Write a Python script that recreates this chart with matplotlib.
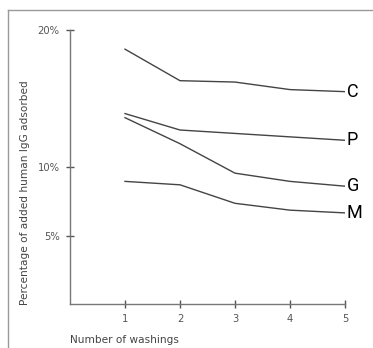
import matplotlib
matplotlib.use('Agg')
import matplotlib.pyplot as plt
from matplotlib.lines import Line2D

washings = [1, 2, 3, 4, 5]
C = [18.6, 16.3, 16.2, 15.65, 15.5]
P = [13.9, 12.7, 12.45, 12.2, 11.95]
G = [13.6, 11.7, 9.55, 8.95, 8.6]
M = [8.95, 8.7, 7.35, 6.85, 6.65]
series = {'C': C, 'P': P, 'G': G, 'M': M}
yticks = [5, 10, 20]
ytick_labels = ['5%', '10%', '20%']

fig = plt.figure(figsize=(3.73, 3.48), dpi=100)
ax = fig.add_axes([70/373, 1 - 304/348, 275/373, 274/348])

line_col = '#444444'
for name, vals in series.items():
    ax.plot(washings, vals, color=line_col, lw=1)
    ax.text(5.03, vals[-1], name, va='center', ha='left', fontsize=13,
            family=['Roboto', 'DejaVu Sans'], color='black')

ax.set_xlim(0, 5)
ax.set_ylim(0, 20)
ax.set_xticks(washings)
ax.set_yticks(yticks)
ax.set_yticklabels(ytick_labels)
for s in ['top', 'right']:
    ax.spines[s].set_visible(False)
for s in ['left', 'bottom']:
    ax.spines[s].set_color('#777777')
    ax.spines[s].set_linewidth(1)
ax.tick_params(direction='inout', length=6, width=1, color='#555555',
               labelsize=7.2, labelcolor='#555555', pad=4.5)

fig.text(70/373, 1 - 340/348, 'Number of washings', fontsize=7.6, color='#444444',
         ha='left', va='center')
fig.text(25/373, 1 - 193/348, 'Percentage of added human IgG adsorbed', fontsize=7.6,
         color='#444444', rotation=90, ha='center', va='center')

# outer frame
fig.add_artist(Line2D([8/373, 1], [1 - 10/348, 1 - 10/348], color='#999999', lw=1,
                      transform=fig.transFigure))
fig.add_artist(Line2D([8/373, 8/373], [0, 1 - 10/348], color='#999999', lw=1,
                      transform=fig.transFigure))

fig.savefig('out.png', dpi=100)
